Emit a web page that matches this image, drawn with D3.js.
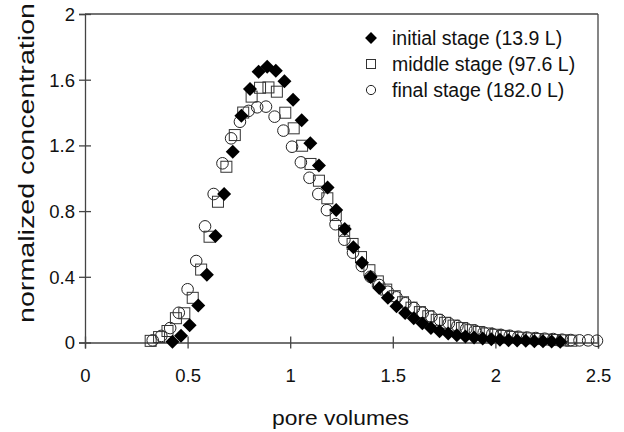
<!DOCTYPE html>
<html>
<head>
<meta charset="utf-8">
<script src="https://cdn.jsdelivr.net/npm/d3@7"></script>
<style>
  body { margin: 0; background: #fff; }
  text { font-family: "Liberation Sans", Arial, sans-serif; fill: #111; }
</style>
</head>
<body>
<script>
// initial stage (13.9 L) - filled diamonds
const initialStage = [
  [0.426, 0.005], [0.468, 0.041], [0.510, 0.105], [0.552, 0.226], [0.594, 0.413],
  [0.636, 0.648], [0.678, 0.904], [0.720, 1.162], [0.762, 1.381], [0.804, 1.543],
  [0.846, 1.649], [0.888, 1.679], [0.930, 1.655], [0.972, 1.590], [1.014, 1.478],
  [1.056, 1.353], [1.098, 1.213], [1.140, 1.077], [1.182, 0.943], [1.224, 0.807],
  [1.266, 0.691], [1.308, 0.580], [1.350, 0.485], [1.392, 0.399], [1.434, 0.332],
  [1.476, 0.272], [1.518, 0.220], [1.560, 0.180], [1.602, 0.148], [1.644, 0.117],
  [1.686, 0.089], [1.728, 0.069], [1.770, 0.055], [1.812, 0.044], [1.854, 0.036],
  [1.896, 0.030], [1.938, 0.025], [1.980, 0.020], [2.022, 0.017], [2.064, 0.014],
  [2.106, 0.012], [2.148, 0.010], [2.190, 0.008], [2.232, 0.007], [2.274, 0.006],
  [2.316, 0.005]
];

// middle stage (97.6 L) - open squares
const middleStage = [
  [0.320, 0.010], [0.361, 0.033], [0.402, 0.070], [0.443, 0.148], [0.484, 0.178],
  [0.525, 0.272], [0.566, 0.444], [0.607, 0.644], [0.648, 0.857], [0.689, 1.070],
  [0.730, 1.263], [0.771, 1.400], [0.812, 1.497], [0.853, 1.551], [0.894, 1.553],
  [0.935, 1.527], [0.976, 1.399], [1.017, 1.304], [1.058, 1.198], [1.099, 1.087],
  [1.140, 0.985], [1.181, 0.878], [1.222, 0.776], [1.263, 0.680], [1.304, 0.600],
  [1.345, 0.520], [1.386, 0.440], [1.427, 0.372], [1.468, 0.322], [1.509, 0.282],
  [1.550, 0.245], [1.591, 0.212], [1.632, 0.185], [1.673, 0.160], [1.714, 0.138],
  [1.755, 0.120], [1.796, 0.103], [1.837, 0.088], [1.878, 0.075], [1.919, 0.064],
  [1.960, 0.055], [2.001, 0.047], [2.042, 0.040], [2.083, 0.034], [2.124, 0.029],
  [2.165, 0.025], [2.206, 0.021], [2.247, 0.018], [2.288, 0.015], [2.329, 0.013],
  [2.370, 0.011]
];

// final stage (182.0 L) - open circles
const finalStage = [
  [0.330, 0.013], [0.372, 0.040], [0.415, 0.088], [0.457, 0.181], [0.500, 0.324],
  [0.542, 0.496], [0.585, 0.707], [0.627, 0.904], [0.670, 1.091], [0.712, 1.243],
  [0.755, 1.344], [0.797, 1.410], [0.839, 1.432], [0.882, 1.436], [0.924, 1.375],
  [0.967, 1.290], [1.009, 1.192], [1.052, 1.097], [1.094, 1.003], [1.137, 0.904],
  [1.179, 0.806], [1.221, 0.720], [1.264, 0.626], [1.306, 0.547], [1.349, 0.466],
  [1.391, 0.400], [1.434, 0.350], [1.476, 0.309], [1.518, 0.275], [1.561, 0.239],
  [1.603, 0.210], [1.646, 0.181], [1.688, 0.157], [1.730, 0.137], [1.773, 0.117],
  [1.815, 0.100], [1.858, 0.084], [1.900, 0.072], [1.943, 0.060], [1.985, 0.052],
  [2.028, 0.046], [2.070, 0.041], [2.112, 0.035], [2.155, 0.030], [2.197, 0.027],
  [2.240, 0.023], [2.282, 0.021], [2.325, 0.017], [2.367, 0.015], [2.410, 0.013],
  [2.452, 0.013], [2.495, 0.011]
];

const xTicks = [0, 0.5, 1, 1.5, 2, 2.5];
const yTicks = [0, 0.4, 0.8, 1.2, 1.6, 2];
const legendLabels = ["initial stage (13.9 L)", "middle stage (97.6 L)", "final stage (182.0 L)"];

const WIDTH = 624;
const HEIGHT = 432;
const LEFT = 85, RIGHT = 598, TOP = 14, BOTTOM = 342.5;
const AXIS_COLOR = "#444";

const svg = d3.select("body")
  .append("svg")
  .attr("width", WIDTH)
  .attr("height", HEIGHT);

const xScale = d3.scaleLinear().domain([0, 2.5]).range([LEFT, RIGHT]);
const yScale = d3.scaleLinear().domain([0, 2]).range([BOTTOM, TOP]);

// frame: top and right border
svg.append("line")
  .attr("x1", LEFT).attr("x2", RIGHT).attr("y1", TOP).attr("y2", TOP)
  .attr("stroke", AXIS_COLOR).attr("stroke-width", 1.3);
svg.append("line")
  .attr("x1", RIGHT).attr("x2", RIGHT).attr("y1", TOP).attr("y2", BOTTOM)
  .attr("stroke", AXIS_COLOR).attr("stroke-width", 1.3);

// axes, ticks crossing the axis line
const xAxis = d3.axisBottom(xScale)
  .tickValues(xTicks)
  .tickSize(6)
  .tickFormat(d3.format("~g"));
const yAxis = d3.axisLeft(yScale)
  .tickValues(yTicks)
  .tickSize(6)
  .tickFormat(d3.format("~g"));

const gx = svg.append("g")
  .attr("transform", "translate(0," + BOTTOM + ")")
  .call(xAxis);
const gy = svg.append("g")
  .attr("transform", "translate(" + LEFT + ",0)")
  .call(yAxis);

[gx, gy].forEach(g => {
  g.select(".domain").attr("stroke", AXIS_COLOR).attr("stroke-width", 1.3);
  g.selectAll(".tick line").attr("stroke", AXIS_COLOR).attr("stroke-width", 1.3);
  g.selectAll(".tick text")
    .style("font-family", "'Liberation Sans', Arial, sans-serif")
    .style("font-size", "18.5px")
    .attr("fill", "#111");
});
gx.selectAll(".tick line").attr("y1", -6).attr("y2", 6);
gx.selectAll(".tick text").attr("y", 0).attr("dy", 0)
  .attr("transform", "translate(0,39.5)");
gy.selectAll(".tick line").attr("x1", 6).attr("x2", -6);
gy.selectAll(".tick text").attr("x", -10).attr("dy", "0.35em");

// axis titles
svg.append("text")
  .attr("x", (LEFT + RIGHT) / 2 - 1)
  .attr("y", 425)
  .attr("text-anchor", "middle")
  .style("font-size", "21px")
  .attr("textLength", 137)
  .attr("lengthAdjust", "spacingAndGlyphs")
  .text("pore volumes");

svg.append("text")
  .attr("transform", "translate(34," + 163 + ") rotate(-90)")
  .attr("text-anchor", "middle")
  .style("font-size", "22px")
  .attr("textLength", 320)
  .attr("lengthAdjust", "spacingAndGlyphs")
  .text("normalized concentration");

// markers
const diamond = d3.symbol().type(d3.symbolDiamond2).size(125);
const plot = svg.append("g");

plot.selectAll("circle.final")
  .data(finalStage)
  .enter()
  .append("circle")
  .attr("class", "final")
  .attr("cx", d => xScale(d[0]))
  .attr("cy", d => yScale(d[1]))
  .attr("r", 5.8)
  .attr("fill", "none")
  .attr("stroke", "#222")
  .attr("stroke-width", 1);

plot.selectAll("rect.middle")
  .data(middleStage)
  .enter()
  .append("rect")
  .attr("class", "middle")
  .attr("x", d => xScale(d[0]) - 5.5)
  .attr("y", d => yScale(d[1]) - 5.5)
  .attr("width", 11)
  .attr("height", 11)
  .attr("fill", "none")
  .attr("stroke", "#333")
  .attr("stroke-width", 1);

plot.selectAll("path.initial")
  .data(initialStage)
  .enter()
  .append("path")
  .attr("class", "initial")
  .attr("transform", d => "translate(" + xScale(d[0]) + "," + yScale(d[1]) + ")")
  .attr("d", diamond)
  .attr("fill", "#000");

// legend
const legend = svg.append("g").attr("transform", "translate(371,38)");
const rowGap = 26;
legend.append("path")
  .attr("d", d3.symbol().type(d3.symbolDiamond2).size(90))
  .attr("fill", "#000");
legend.append("rect")
  .attr("x", -4.5).attr("y", rowGap - 4.5)
  .attr("width", 9).attr("height", 9)
  .attr("fill", "none").attr("stroke", "#333");
legend.append("circle")
  .attr("cx", 0).attr("cy", rowGap * 2)
  .attr("r", 4.6)
  .attr("fill", "none").attr("stroke", "#222");
legend.selectAll("text")
  .data(legendLabels)
  .enter()
  .append("text")
  .attr("x", 21)
  .attr("y", (d, i) => i * rowGap)
  .attr("dy", "0.35em")
  .style("font-size", "19.5px")
  .text(d => d);
</script>
</body>
</html>
